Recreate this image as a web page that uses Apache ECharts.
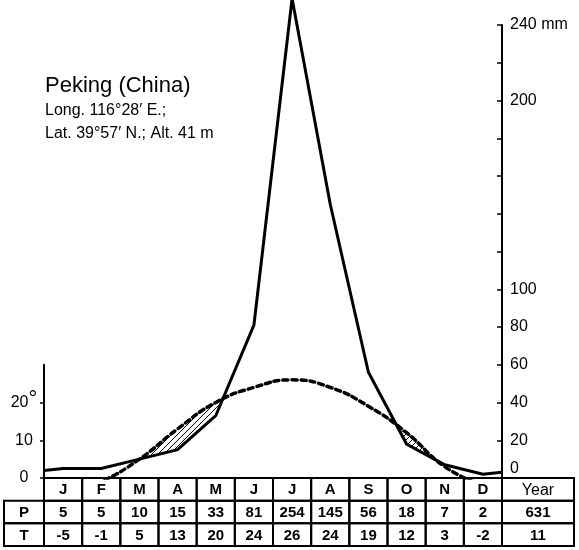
<!DOCTYPE html>
<html><head><meta charset="utf-8">
<script src="https://cdn.jsdelivr.net/npm/echarts@6/dist/echarts.min.js"></script>
<style>html,body{margin:0;padding:0;background:#fff}#c{width:579px;height:550px}</style>
</head><body><div id="c"></div>
<script>
// ---- data ----
const months = ['J','F','M','A','M','J','J','A','S','O','N','D'];
const precip = [5,5,10,15,33,81,254,145,56,18,7,2];          // mm
const temp = [-5,-1,5,13,20,24,26,24,19,12,3,-2];           // °C
const precipEdge = [4,3];                                    // line value read at left / right axis
const yearLabel = 'Year';
const yearPrecip = 631;
const yearTemp = 11;
const rowLabels = ['', 'P', 'T'];
const precipLabelTicks = [0,20,40,60,80,100,200,240];
const tempLabelTicks = [0,10,20];
const station = 'Peking (China)';
const stationInfo = ['Long. 116°28′ E.;', 'Lat. 39°57′ N.; Alt. 41 m'];
const mmPerDeg = 2;     // 10 °C = 20 mm
const pMax = 240;
const tAxisMax = 30;

// ---- layout ----
const L = 44, R = 502, CW = 579;
const gTop = 25, gBottom = 478;
const gH = gBottom - gTop;
const tH = gH * tAxisMax * mmPerDeg / pMax;
const tableH = 68;
const FONT = '"Liberation Sans", Arial, sans-serif';

// hatch pattern
const pc = document.createElement('canvas'); pc.width = 6; pc.height = 6;
const pctx = pc.getContext('2d');
pctx.strokeStyle = '#000'; pctx.lineWidth = 1;
pctx.beginPath();
pctx.moveTo(0,6); pctx.lineTo(6,0);
pctx.moveTo(-1,1); pctx.lineTo(1,-1);
pctx.moveTo(5,7); pctx.lineTo(7,5);
pctx.stroke();
const hatchPattern = { image: pc, repeat: 'repeat' };

function lerp(arr, x) {
  const f = x - 0.5;
  const i = Math.max(0, Math.min(Math.floor(f), arr.length - 2));
  const t = f - i;
  return arr[i] * (1 - t) + arr[i + 1] * t;
}

function hatchItem(params, api) {
  const N = 330;
  const polys = [];
  let cur = null;
  for (let k = 0; k <= N; k++) {
    const x = 0.5 + (months.length - 1) * k / N;
    const p = lerp(precip, x), t = lerp(temp, x) * mmPerDeg;
    if (t > p) {
      if (!cur) { cur = { top: [], bot: [] }; polys.push(cur); }
      cur.top.push(api.coord([x, t]));
      cur.bot.push(api.coord([x, p]));
    } else cur = null;
  }
  return {
    type: 'group',
    children: polys.map(pg => ({
      type: 'polygon',
      shape: { points: pg.top.concat(pg.bot.reverse()) },
      style: { fill: hatchPattern, stroke: null }
    }))
  };
}

// table cells
const cells = [];
const cellTexts = [];
months.forEach((m, i) => { cells.push([i, 0]); cellTexts.push(m); });
cells.push([12, 0]); cellTexts.push(yearLabel);
cells.push([-1, 1]); cellTexts.push(rowLabels[1]);
precip.forEach((v, i) => { cells.push([i, 1]); cellTexts.push(String(v)); });
cells.push([12, 1]); cellTexts.push(String(yearPrecip));
cells.push([-1, 2]); cellTexts.push(rowLabels[2]);
temp.forEach((v, i) => { cells.push([i, 2]); cellTexts.push(String(v)); });
cells.push([12, 2]); cellTexts.push(String(yearTemp));

function cellItem(params, api) {
  const col = api.value(0), row = api.value(1);
  const cs = params.coordSys;
  let x0, x1;
  if (col < 0) { x0 = cs.x - 40; x1 = cs.x; }
  else if (col >= 12) { x0 = cs.x + cs.width; x1 = x0 + 72; }
  else { x0 = api.coord([col, 0])[0]; x1 = api.coord([col + 1, 0])[0]; }
  const y0 = api.coord([0, row])[1], y1 = api.coord([0, row + 1])[1];
  const txt = cellTexts[params.dataIndex];
  const isYear = txt === yearLabel;
  return {
    type: 'group',
    children: [
      { type: 'rect', shape: { x: x0, y: y0, width: x1 - x0, height: y1 - y0 },
        style: { fill: 'none', stroke: '#000', lineWidth: 2 } },
      { type: 'text', style: { text: txt, x: (x0 + x1) / 2, y: (y0 + y1) / 2 + 1,
        align: 'center', verticalAlign: 'middle', fill: '#000',
        fontFamily: FONT, fontSize: isYear ? 16 : 15, fontWeight: isYear ? 'normal' : 'bold' } }
    ]
  };
}

const chart = echarts.init(document.getElementById('c'), null, { renderer: 'canvas' });
chart.setOption({
  animation: false,
  backgroundColor: '#fff',
  title: {
    text: station,
    subtext: stationInfo.join('\n'),
    left: 40, top: 70, itemGap: 2,
    textStyle: { fontFamily: FONT, fontSize: 22, fontWeight: 'normal', color: '#000' },
    subtextStyle: { fontFamily: FONT, fontSize: 16, color: '#000', lineHeight: 23 }
  },
  grid: [
    { left: L, width: R - L, top: gTop, height: gH, outerBoundsMode: 'none' },
    { left: L, width: R - L, top: gBottom - tH, height: tH, outerBoundsMode: 'none' },
    { left: L, width: R - L, top: gBottom, height: tableH, outerBoundsMode: 'none' }
  ],
  xAxis: [
    { gridIndex: 0, type: 'value', min: 0, max: 12,
      axisLine: { show: true, onZero: false, lineStyle: { color: '#000', width: 2 } },
      axisTick: { show: false }, axisLabel: { show: false }, splitLine: { show: false } },
    { gridIndex: 1, type: 'value', min: 0, max: 12, show: false },
    { gridIndex: 2, type: 'value', min: 0, max: 12, show: false }
  ],
  yAxis: [
    { gridIndex: 0, type: 'value', position: 'right', min: 0, max: pMax, interval: 20,
      axisLine: { show: true, onZero: false, lineStyle: { color: '#000', width: 2 } },
      axisTick: { show: true, inside: true, length: 5, lineStyle: { color: '#000', width: 1.5 } },
      splitLine: { show: false },
      axisLabel: {
        margin: 8, color: '#000', fontFamily: FONT, fontSize: 16,
        formatter: v => {
          if (precipLabelTicks.indexOf(v) < 0) return '';
          if (v === 0) return '{z|0}';
          if (v === pMax) return v + ' mm';
          return String(v);
        },
        rich: { z: { fontFamily: FONT, fontSize: 16, color: '#000', padding: [0, 0, 18, 0] } }
      } },
    { gridIndex: 0, type: 'value', min: 0, max: pMax / mmPerDeg, show: false },
    { gridIndex: 1, type: 'value', position: 'left', min: 0, max: tAxisMax, interval: 10,
      axisLine: { show: true, onZero: false, lineStyle: { color: '#000', width: 2 } },
      axisTick: { show: true, length: 4, customValues: tempLabelTicks, lineStyle: { color: '#000', width: 1.5 } },
      splitLine: { show: false },
      axisLabel: {
        margin: 20, align: 'center', color: '#000', fontFamily: FONT, fontSize: 16,
        customValues: tempLabelTicks,
        formatter: v => tempLabelTicks.indexOf(v) < 0 ? '' : (v === 20 ? '20{d|°}' : String(v)),
        rich: { d: { fontFamily: FONT, fontSize: 22, color: '#000', padding: [0, 0, 6, 0] } }
      } },
    { gridIndex: 2, type: 'value', min: 0, max: 3, inverse: true, show: false }
  ],
  series: [
    { type: 'custom', xAxisIndex: 0, yAxisIndex: 0, data: [[0, 0]], renderItem: hatchItem, z: 2, silent: true },
    { type: 'line', xAxisIndex: 0, yAxisIndex: 1, smooth: 0.5, symbol: 'none', clip: true,
      data: temp.map((v, i) => [i + 0.5, v]),
      lineStyle: { color: '#000', width: 3.5, type: [5, 4], cap: 'round' }, z: 3 },
    { type: 'line', xAxisIndex: 0, yAxisIndex: 0, symbol: 'none', clip: false,
      data: [[0, precipEdge[0]]].concat(precip.map((v, i) => [i + 0.5, v])).concat([[12, precipEdge[1]]]),
      lineStyle: { color: '#000', width: 3, join: 'miter' }, z: 4 },
    { type: 'custom', xAxisIndex: 2, yAxisIndex: 3, data: cells, renderItem: cellItem, z: 5, silent: true }
  ]
});
</script>
</body></html>
